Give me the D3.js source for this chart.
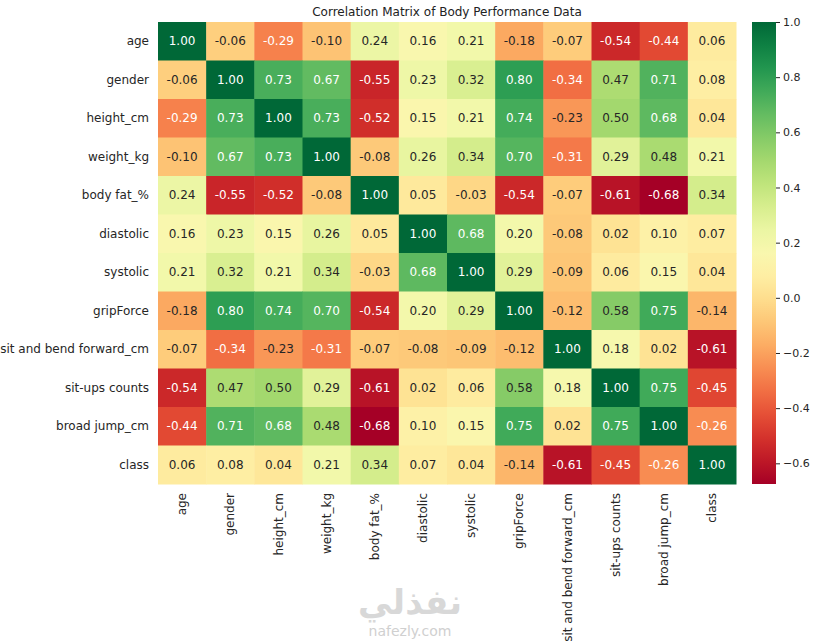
<!DOCTYPE html>
<html><head><meta charset="utf-8">
<script src="https://cdn.jsdelivr.net/npm/d3@7"></script>
<style>body{margin:0;background:#fff;font-family:"DejaVu Sans",sans-serif;}</style>
</head><body><div id="chart"></div>
<script>
var labels = ["age","gender","height_cm","weight_kg","body fat_%","diastolic","systolic","gripForce","sit and bend forward_cm","sit-ups counts","broad jump_cm","class"];
var corr = [
 [1.00,-0.06,-0.29,-0.10,0.24,0.16,0.21,-0.18,-0.07,-0.54,-0.44,0.06],
 [-0.06,1.00,0.73,0.67,-0.55,0.23,0.32,0.80,-0.34,0.47,0.71,0.08],
 [-0.29,0.73,1.00,0.73,-0.52,0.15,0.21,0.74,-0.23,0.50,0.68,0.04],
 [-0.10,0.67,0.73,1.00,-0.08,0.26,0.34,0.70,-0.31,0.29,0.48,0.21],
 [0.24,-0.55,-0.52,-0.08,1.00,0.05,-0.03,-0.54,-0.07,-0.61,-0.68,0.34],
 [0.16,0.23,0.15,0.26,0.05,1.00,0.68,0.20,-0.08,0.02,0.10,0.07],
 [0.21,0.32,0.21,0.34,-0.03,0.68,1.00,0.29,-0.09,0.06,0.15,0.04],
 [-0.18,0.80,0.74,0.70,-0.54,0.20,0.29,1.00,-0.12,0.58,0.75,-0.14],
 [-0.07,-0.34,-0.23,-0.31,-0.07,-0.08,-0.09,-0.12,1.00,0.18,0.02,-0.61],
 [-0.54,0.47,0.50,0.29,-0.61,0.02,0.06,0.58,0.18,1.00,0.75,-0.45],
 [-0.44,0.71,0.68,0.48,-0.68,0.10,0.15,0.75,0.02,0.75,1.00,-0.26],
 [0.06,0.08,0.04,0.21,0.34,0.07,0.04,-0.14,-0.61,-0.45,-0.26,1.00]
];
var cbTicks = [-0.6,-0.4,-0.2,0.0,0.2,0.4,0.6,0.8,1.0];
var vmin = -0.675, vmax = 1.0;

var W = 818, H = 642;
var svg = d3.select("#chart").append("svg").attr("width", W).attr("height", H);
var gLeft = 158, gTop = 22, gw = 578, gh = 462;
var x = d3.scaleBand().domain(d3.range(12)).range([gLeft, gLeft + gw]);
var y = d3.scaleBand().domain(d3.range(12)).range([gTop, gTop + gh]);
var color = d3.scaleSequential(d3.interpolateRdYlGn).domain([vmin, vmax]);

function lum(c) {
    var rgb = d3.rgb(c);
    var f = function (v) { v /= 255; return v <= 0.03928 ? v / 12.92 : Math.pow((v + 0.055) / 1.055, 2.4); };
    return 0.2126 * f(rgb.r) + 0.7152 * f(rgb.g) + 0.0722 * f(rgb.b);
}

svg.append("text").attr("x", gLeft + gw / 2).attr("y", 16).attr("text-anchor", "middle")
    .attr("font-size", 12).attr("fill", "#222").text("Correlation Matrix of Body Performance Data");

var cells = [];
corr.forEach(function (row, i) { row.forEach(function (v, j) { cells.push({i: i, j: j, v: v}); }); });

svg.selectAll(".cell").data(cells).enter().append("rect")
    .attr("x", function (d) { return x(d.j); }).attr("y", function (d) { return y(d.i); })
    .attr("width", x.bandwidth() + 0.5).attr("height", y.bandwidth() + 0.5)
    .attr("fill", function (d) { return color(d.v); });

svg.selectAll(".ann").data(cells).enter().append("text")
    .attr("x", function (d) { return x(d.j) + x.bandwidth() / 2; })
    .attr("y", function (d) { return y(d.i) + y.bandwidth() / 2; })
    .attr("dy", "0.35em").attr("text-anchor", "middle").attr("font-size", 12)
    .attr("fill", function (d) { return lum(color(d.v)) > 0.408 ? "#262626" : "#fff"; })
    .text(function (d) { return d3.format(".2f")(d.v).replace("\u2212", "-"); });

svg.selectAll(".ylab").data(labels).enter().append("text")
    .attr("x", gLeft - 9).attr("y", function (d, i) { return y(i) + y.bandwidth() / 2; })
    .attr("dy", "0.35em").attr("text-anchor", "end").attr("font-size", 12).attr("fill", "#262626")
    .text(function (d) { return d; });

svg.selectAll(".xlab").data(labels).enter().append("text")
    .attr("transform", function (d, i) { return "translate(" + (x(i) + x.bandwidth() / 2) + "," + (gTop + gh + 9) + ") rotate(-90)"; })
    .attr("dy", "0.35em").attr("text-anchor", "end").attr("font-size", 12).attr("fill", "#262626")
    .text(function (d) { return d; });

// colorbar
var cbx = 752, cbw = 24;
var cy = d3.scaleLinear().domain([vmin, vmax]).range([gTop + gh, gTop]);
var grad = svg.append("defs").append("linearGradient").attr("id", "cb").attr("x1", 0).attr("y1", 1).attr("x2", 0).attr("y2", 0);
d3.range(0, 1.001, 0.05).forEach(function (t) {
    grad.append("stop").attr("offset", t).attr("stop-color", d3.interpolateRdYlGn(t));
});
svg.append("rect").attr("x", cbx).attr("y", gTop).attr("width", cbw).attr("height", gh).attr("fill", "url(#cb)");
var ax = svg.append("g").attr("transform", "translate(" + (cbx + cbw) + ",0)")
    .call(d3.axisRight(cy).tickValues(cbTicks).tickSize(4).tickFormat(function (d) { return d3.format(".1f")(d); }));
ax.select(".domain").remove();
ax.selectAll("text").attr("font-size", 11).attr("fill", "#262626").attr("font-family", "DejaVu Sans");
ax.selectAll("line").attr("stroke", "#262626");

// watermark
svg.append("text").attr("x", 410).attr("y", 614).attr("text-anchor", "middle")
    .attr("font-size", 34).attr("font-weight", "bold").attr("fill", "#d8d8d8").attr("font-family", "DejaVu Sans").text("نفذلي");
svg.append("text").attr("x", 410).attr("y", 636).attr("text-anchor", "middle")
    .attr("font-size", 14).attr("fill", "#d0d0d0").text("nafezly.com");
</script></body></html>
